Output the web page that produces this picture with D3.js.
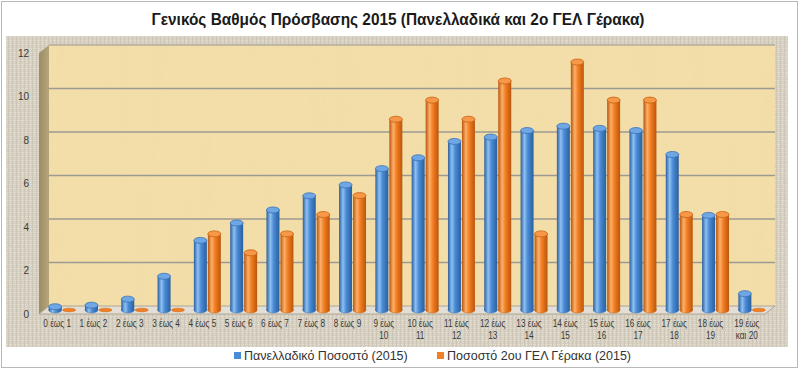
<!DOCTYPE html>
<html>
<head>
<meta charset="utf-8">
<script src="https://cdn.jsdelivr.net/npm/d3@7/dist/d3.min.js"></script>
<style>
  html, body { margin: 0; padding: 0; background: #fff; }
  svg { display: block; }
</style>
</head>
<body>
<svg id="chart" width="800" height="370"></svg>
<script>
// ---------------- DATA ----------------
const chartTitle = "Γενικός Βαθμός Πρόσβασης 2015 (Πανελλαδικά και 2ο ΓΕΛ Γέρακα)";
const categories = [
  "0 έως 1", "1 έως 2", "2 έως 3", "3 έως 4", "4 έως 5", "5 έως 6", "6 έως 7",
  "7 έως 8", "8 έως 9", "9 έως 10", "10 έως 11", "11 έως 12", "12 έως 13",
  "13 έως 14", "14 έως 15", "15 έως 16", "16 έως 17", "17 έως 18", "18 έως 19",
  "19 έως και 20"
];
const seriesNames = ["Πανελλαδικό Ποσοστό (2015)", "Ποσοστό 2ου ΓΕΛ Γέρακα (2015)"];
const nationalPct = [0.15, 0.22, 0.5, 1.55, 3.2, 4.0, 4.6, 5.25, 5.75, 6.5,
                     7.0, 7.75, 7.95, 8.25, 8.45, 8.35, 8.25, 7.15, 4.35, 0.75];
const schoolPct   = [0, 0, 0, 0, 3.5, 2.63, 3.5, 4.39, 5.26, 8.77,
                     9.65, 8.77, 10.53, 3.5, 11.4, 9.65, 9.65, 4.39, 4.39, 0];
const yTicks = [0, 2, 4, 6, 8, 10, 12];

// ---------------- LAYOUT ----------------
const svg = d3.select("#chart");
const W = 800, H = 370;
const DX = 10, DY = 8;                 // 3D depth offset
const frontLeft = 39, frontRight = 765;
const FONT = "'Liberation Sans', Arial, sans-serif";

const yFront = d3.scaleLinear().domain([0, 12]).range([314, 53]);
const x = d3.scaleBand().domain(categories).range([frontLeft, frontRight])
  .paddingInner(0.23).paddingOuter(0.115);
const xs = d3.scaleBand().domain([0, 1]).range([0, x.bandwidth()]);

const colors = [
  { base: "#4a8bd6", light: "#8ec0f2", dark: "#2a5f9e", top: "#6fa6e4", stroke: "#3a72b8" },
  { base: "#f47e22", light: "#fbb06a", dark: "#b9560c", top: "#f69848", stroke: "#c8620f" }
];

const defs = svg.append("defs");

// burlap texture
const burlap = defs.append("pattern").attr("id", "burlap")
  .attr("patternUnits", "userSpaceOnUse").attr("width", 4).attr("height", 4);
burlap.append("rect").attr("width", 4).attr("height", 4).attr("fill", "#d8d2c4");
burlap.append("rect").attr("x", 0).attr("y", 0).attr("width", 4).attr("height", 1).attr("fill", "#e4dfd3");
burlap.append("rect").attr("x", 0).attr("y", 0).attr("width", 1).attr("height", 4).attr("fill", "#cfc8b8");
burlap.append("rect").attr("x", 2).attr("y", 2).attr("width", 1).attr("height", 1).attr("fill", "#ebe6dc");

const fNoise = defs.append("filter").attr("id", "noiseBurlap")
  .attr("x", 0).attr("y", 0).attr("width", "100%").attr("height", "100%");
fNoise.append("feTurbulence").attr("type", "fractalNoise").attr("baseFrequency", "0.9 0.25")
  .attr("numOctaves", 2).attr("seed", 5).attr("result", "n");
fNoise.append("feColorMatrix").attr("in", "n").attr("type", "matrix")
  .attr("values", "0 0 0 0 0.55  0 0 0 0 0.5  0 0 0 0 0.42  0.5 0 0 0 -0.12").attr("result", "c");
fNoise.append("feComposite").attr("in", "c").attr("in2", "SourceGraphic").attr("operator", "in");

const fPap = defs.append("filter").attr("id", "noisePapyrus")
  .attr("x", 0).attr("y", 0).attr("width", "100%").attr("height", "100%");
fPap.append("feTurbulence").attr("type", "fractalNoise").attr("baseFrequency", "0.07 0.006")
  .attr("numOctaves", 3).attr("seed", 3).attr("result", "n");
fPap.append("feColorMatrix").attr("in", "n").attr("type", "matrix")
  .attr("values", "0 0 0 0 0.85  0 0 0 0 0.7  0 0 0 0 0.4  0.45 0 0 0 -0.15").attr("result", "c");
fPap.append("feComposite").attr("in", "c").attr("in2", "SourceGraphic").attr("operator", "in");

const sideGrad = defs.append("linearGradient").attr("id", "sideGrad")
  .attr("x1", 0).attr("y1", 0).attr("x2", 1).attr("y2", 0);
sideGrad.append("stop").attr("offset", 0).attr("stop-color", "#9c8c62");
sideGrad.append("stop").attr("offset", 1).attr("stop-color", "#b5a57c");

colors.forEach((c, i) => {
  const g = defs.append("linearGradient").attr("id", "cyl" + i)
    .attr("x1", 0).attr("y1", 0).attr("x2", 1).attr("y2", 0);
  g.append("stop").attr("offset", 0).attr("stop-color", c.dark);
  g.append("stop").attr("offset", 0.3).attr("stop-color", c.light);
  g.append("stop").attr("offset", 0.55).attr("stop-color", c.base);
  g.append("stop").attr("offset", 1).attr("stop-color", c.dark);
});

// outer border
svg.append("rect").attr("x", 1.5).attr("y", 1.5).attr("width", W - 4).attr("height", H - 4)
  .attr("fill", "#fff").attr("stroke", "#b8b8b8");

// title
svg.append("text").attr("x", 398).attr("y", 25).attr("text-anchor", "middle")
  .attr("font-family", FONT).attr("font-weight", "bold")
  .attr("font-size", 17).attr("fill", "#1a1a1a")
  .attr("textLength", 493).attr("lengthAdjust", "spacingAndGlyphs")
  .text(chartTitle);

// plot area (burlap)
const pa = { x: 6, y: 36, w: 782, h: 311 };
svg.append("rect").attr("x", pa.x).attr("y", pa.y).attr("width", pa.w).attr("height", pa.h)
  .attr("fill", "url(#burlap)");
svg.append("rect").attr("x", pa.x).attr("y", pa.y).attr("width", pa.w).attr("height", pa.h)
  .attr("fill", "#000").attr("filter", "url(#noiseBurlap)");

// back wall
const bwTop = yFront(12) - DY, bwBot = yFront(0) - DY;
svg.append("rect").attr("x", frontLeft + DX).attr("y", bwTop)
  .attr("width", frontRight - frontLeft).attr("height", bwBot - bwTop)
  .attr("fill", "#f3dea9");
svg.append("rect").attr("x", frontLeft + DX).attr("y", bwTop)
  .attr("width", frontRight - frontLeft).attr("height", bwBot - bwTop)
  .attr("fill", "#000").attr("filter", "url(#noisePapyrus)");
svg.append("line").attr("x1", frontLeft + DX).attr("x2", frontRight + DX)
  .attr("y1", bwTop).attr("y2", bwTop).attr("stroke", "#b3ad9e").attr("stroke-width", 1.5);

// side wall
svg.append("path")
  .attr("d", `M${frontLeft},${yFront(12)} L${frontLeft + DX},${bwTop} L${frontLeft + DX},${bwBot} L${frontLeft},${yFront(0)} Z`)
  .attr("fill", "url(#sideGrad)");

// gridlines on back wall
svg.append("g").selectAll("line").data(yTicks.filter(t => t > 0 && t < 12)).join("line")
  .attr("x1", frontLeft + DX).attr("x2", frontRight + DX)
  .attr("y1", d => yFront(d) - DY).attr("y2", d => yFront(d) - DY)
  .attr("stroke", "#9d9a92").attr("stroke-width", 1.4);

// floor
svg.append("path")
  .attr("d", `M${frontLeft},${yFront(0)} L${frontLeft + DX},${bwBot} L${frontRight + DX},${bwBot} L${frontRight},${yFront(0)} Z`)
  .attr("fill", "#e3dfd6").attr("stroke", "#aca693").attr("stroke-width", 1);

// bars (cylinders)
const seriesData = [nationalPct, schoolPct];
const yBar = v => yFront(v) - DY / 2;
const ry = 3;
seriesData.forEach((vals, si) => {
  const c = colors[si];
  const g = svg.append("g");
  const data = categories.map((cat, i) => ({ cat, v: vals[i] }));
  const bw = xs.bandwidth() - 1;
  const cx = d => x(d.cat) + xs(si) + DX / 2 + 0.5;
  const nz = data.filter(d => d.v > 0);
  g.selectAll("ellipse.bot").data(data).join("ellipse").attr("class", "bot")
    .attr("cx", d => cx(d) + bw / 2).attr("cy", yBar(0))
    .attr("rx", bw / 2).attr("ry", d => d.v > 0 ? ry : 1.8)
    .attr("fill", d => d.v > 0 ? `url(#cyl${si})` : c.base)
    .attr("stroke", c.stroke).attr("stroke-width", 0.5);
  g.selectAll("rect.body").data(nz).join("rect").attr("class", "body")
    .attr("x", d => cx(d)).attr("width", bw)
    .attr("y", d => yBar(d.v)).attr("height", d => yBar(0) - yBar(d.v))
    .attr("fill", `url(#cyl${si})`);
  g.selectAll("ellipse.top").data(nz).join("ellipse").attr("class", "top")
    .attr("cx", d => cx(d) + bw / 2).attr("cy", d => yBar(d.v))
    .attr("rx", bw / 2).attr("ry", ry)
    .attr("fill", c.top).attr("stroke", c.stroke).attr("stroke-width", 0.8);
});

// y axis
const yAxis = svg.append("g").attr("transform", "translate(29,0)")
  .call(d3.axisLeft(yFront).tickValues(yTicks).tickSize(0).tickPadding(0).tickFormat(d3.format("d")));
yAxis.select(".domain").remove();
yAxis.selectAll("text").attr("font-family", FONT)
  .attr("font-size", 10).attr("fill", "#3a3a3a");

// x axis
const xAxis = svg.append("g").attr("transform", "translate(0,320)")
  .call(d3.axisBottom(x).tickSize(0).tickPadding(0));
xAxis.select(".domain").remove();
xAxis.selectAll(".tick text").each(function(d) {
  const t = d3.select(this);
  t.text(null).attr("font-family", FONT)
    .attr("font-size", 10).attr("fill", "#3a3a3a");
  let lines = [d];
  if (d.length > 7) {
    const k = d.indexOf("έως") + 3;
    lines = [d.slice(0, k), d.slice(k + 1)];
  }
  lines.forEach((ln, i) => {
    const sp = t.append("tspan").attr("x", 0).attr("dy", i === 0 ? "0.71em" : "1.2em").text(ln);
    const len = sp.node().getComputedTextLength();
    sp.attr("textLength", len * 0.82).attr("lengthAdjust", "spacingAndGlyphs");
  });
});

// legend
const legend = svg.append("g").attr("font-family", FONT)
  .attr("font-size", 12.5).attr("fill", "#333");
const legendX = [234, 437];
seriesNames.forEach((name, i) => {
  const g = legend.append("g").attr("transform", `translate(${legendX[i]},352)`);
  g.append("rect").attr("x", 0).attr("y", 0).attr("width", 7).attr("height", 7)
    .attr("fill", colors[i].base);
  g.append("text").attr("x", 10).attr("y", 8).text(name);
});
</script>
</body>
</html>
